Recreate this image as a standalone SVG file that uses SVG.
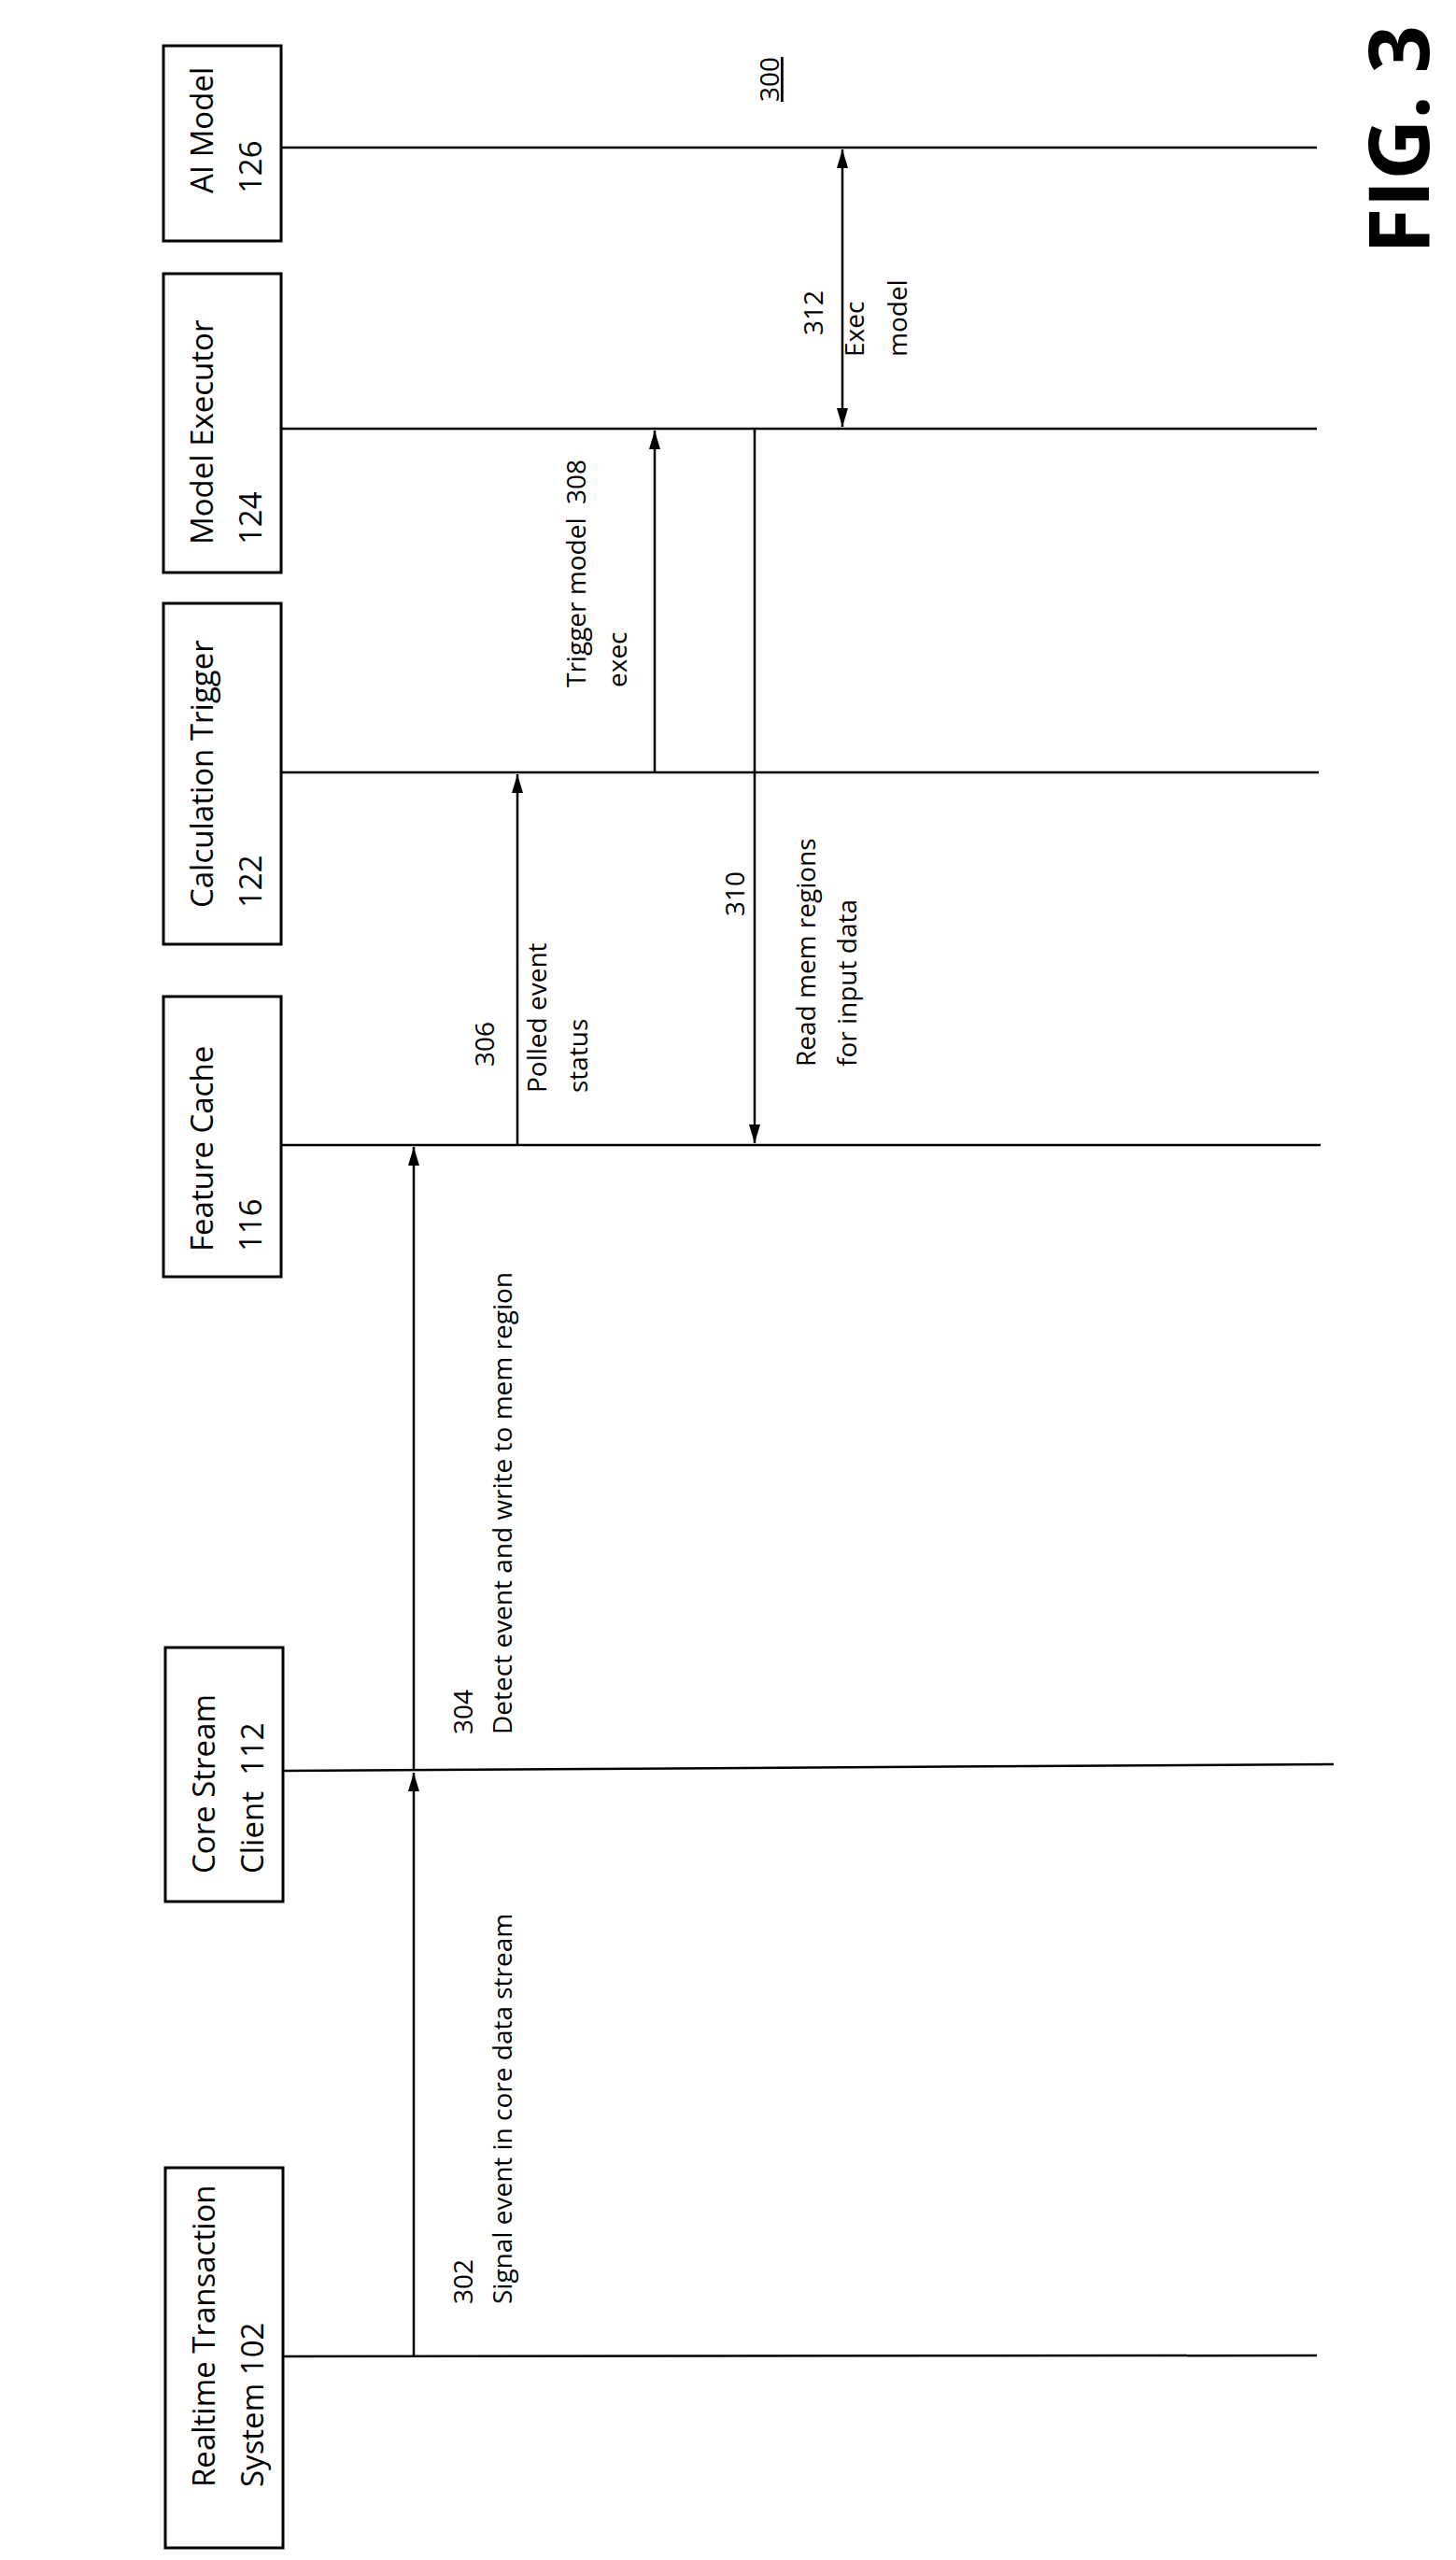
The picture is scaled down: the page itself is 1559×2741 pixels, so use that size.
<svg xmlns="http://www.w3.org/2000/svg" width="1559" height="2741" viewBox="0 0 1559 2741">
<style>
text{font-family:"Open Sans","Liberation Sans",sans-serif;fill:#000}
.b{font-size:33px}.l{font-size:28px}
rect{fill:#fff;stroke:#000;stroke-width:3}
line{stroke:#000;stroke-width:2.5}
</style>
<defs>
<marker id="m" viewBox="0 0 20 12" markerWidth="20" markerHeight="12" refX="20" refY="6" orient="auto-start-reverse" markerUnits="userSpaceOnUse"><path d="M0,0 L20,6 L0,12Z" fill="#000"/></marker></defs>
<text transform="translate(834,109) rotate(-90)" class="l" text-decoration="underline">300</text>
<text transform="translate(1530,272) rotate(-90)" font-size="90" font-weight="bold">FIG. 3</text>
<g id="ai"><rect x="175" y="49" width="126" height="209"/><text class="b" transform="translate(228,207) rotate(-90)">AI Model</text><text class="b" transform="translate(280,207) rotate(-90)">126</text></g>
<g id="me"><rect x="175" y="293" width="126" height="320"/><text class="b" transform="translate(228,583) rotate(-90)">Model Executor</text><text class="b" transform="translate(280,583) rotate(-90)">124</text></g>
<g id="ct"><rect x="175" y="646" width="126" height="365"/><text class="b" transform="translate(228,972) rotate(-90)">Calculation Trigger</text><text class="b" transform="translate(280,972) rotate(-90)">122</text></g>
<g id="fc"><rect x="175" y="1067" width="126" height="300"/><text class="b" transform="translate(228,1340) rotate(-90)">Feature Cache</text><text class="b" transform="translate(280,1340) rotate(-90)">116</text></g>
<g id="cs"><rect x="177" y="1764" width="126" height="272"/><text class="b" transform="translate(230,2006) rotate(-90)">Core Stream</text><text class="b" transform="translate(282,2006) rotate(-90)" xml:space="preserve">Client  112</text></g>
<g id="rt"><rect x="177" y="2321" width="126" height="407"/><text class="b" transform="translate(230,2663) rotate(-90)">Realtime Transaction</text><text class="b" transform="translate(282,2663) rotate(-90)">System 102</text></g>
<g id="connectors">
<line x1="301" y1="158" x2="1410" y2="158"/>
<line x1="301" y1="459" x2="1410" y2="459"/>
<line x1="301" y1="827" x2="1412" y2="827"/>
<line x1="301" y1="1226" x2="1414" y2="1226"/>
<line x1="303" y1="1896" x2="1428" y2="1889"/>
<line x1="303" y1="2523" x2="1410" y2="2522"/>
<line x1="443" y1="2523" x2="443" y2="1898" marker-end="url(#m)"/>
<line x1="443" y1="1896" x2="443" y2="1228" marker-end="url(#m)"/>
<line x1="554" y1="1226" x2="554" y2="829" marker-end="url(#m)"/>
<line x1="701" y1="827" x2="701" y2="461" marker-end="url(#m)"/>
<line x1="808" y1="459" x2="808" y2="1224" marker-end="url(#m)"/>
<line x1="902" y1="160" x2="902" y2="457" marker-start="url(#m)" marker-end="url(#m)"/>
</g>
<g id="labels">
<text class="l" transform="translate(506,2467) rotate(-90)">302</text>
<text class="l" transform="translate(548,2467) rotate(-90)">Signal event in core data stream</text>
<text class="l" transform="translate(506,1857) rotate(-90)">304</text>
<text class="l" transform="translate(548,1857) rotate(-90)">Detect event and write to mem region</text>
<text class="l" transform="translate(529,1142) rotate(-90)">306</text>
<text class="l" transform="translate(585,1170) rotate(-90)">Polled event</text>
<text class="l" transform="translate(629,1170) rotate(-90)">status</text>
<text class="l" transform="translate(627,736) rotate(-90)">Trigger model</text>
<text class="l" transform="translate(627,540) rotate(-90)">308</text>
<text class="l" transform="translate(671,736) rotate(-90)">exec</text>
<text class="l" transform="translate(797,981) rotate(-90)">310</text>
<text class="l" transform="translate(873,1142) rotate(-90)">Read mem regions</text>
<text class="l" transform="translate(917,1142) rotate(-90)">for input data</text>
<text class="l" transform="translate(881,359) rotate(-90)">312</text>
<text class="l" transform="translate(925,382) rotate(-90)">Exec</text>
<text class="l" transform="translate(971,382) rotate(-90)">model</text>
</g>
</svg>
